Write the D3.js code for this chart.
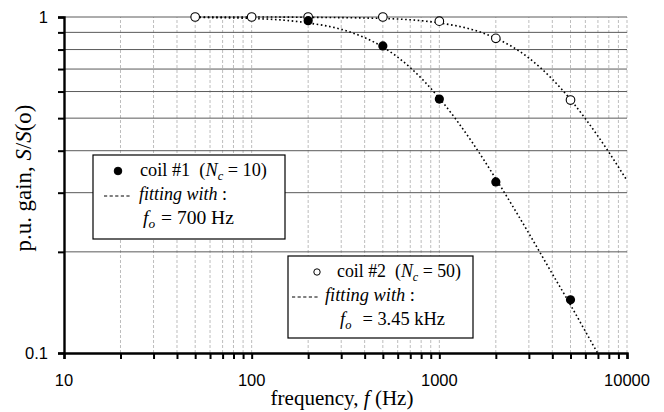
<!DOCTYPE html>
<html>
<head>
<meta charset="utf-8">
<script src="https://cdn.jsdelivr.net/npm/d3@7"></script>
<style>
  body { margin: 0; background: #fff; }
  svg { display: block; }
  .tick-label { font-family: "Liberation Sans", Arial, sans-serif; font-size: 16.5px; fill: #000; }
  .serif { font-family: "Liberation Serif", "Times New Roman", serif; font-size: 18px; fill: #000; }
</style>
</head>
<body>
<svg id="chart" width="664" height="412"></svg>
<script>
const freqs1 = [200, 500, 1000, 2000, 5000]
const gain1 = [0.975, 0.82, 0.57, 0.323, 0.144]
const freqs2 = [50, 100, 200, 500, 1000, 2000, 5000]
const gain2 = [1.0, 1.0, 1.0, 1.0, 0.972, 0.864, 0.566]

// dotted fitting curves
const fitFreqs1 = [50, 100, 150, 200, 300, 400, 500, 700, 1000, 1500, 2000, 3000, 4000, 5000, 6000, 7000]
const fitGain1 = [0.997, 0.99, 0.978, 0.96, 0.919, 0.868, 0.814, 0.707, 0.573, 0.423, 0.33, 0.227, 0.172, 0.139, 0.116, 0.0995]
const fitFreqs2 = [50, 100, 200, 500, 1000, 1500, 2000, 3000, 4000, 5000, 6000, 7000, 8000, 10000]
const fitGain2 = [1.0, 1.0, 0.998, 0.99, 0.96, 0.917, 0.865, 0.755, 0.653, 0.568, 0.498, 0.442, 0.396, 0.326]

const xTickLabels = [10, 100, 1000, 10000]
const yTickLabels = [0.1, 1]

const svg = d3.select("#chart")
const margin = {left: 64, right: 37, top: 17, bottom: 59}
const width = +svg.attr("width"), height = +svg.attr("height")

const x = d3.scaleLog().domain([10, 10000]).range([margin.left, width - margin.right])
const y = d3.scaleLog().domain([0.1, 1]).range([height - margin.bottom, margin.top])

const xMinor = d3.range(1, 4).flatMap(e => d3.range(1, 10).map(m => m * Math.pow(10, e))).concat([10000])
const yMinor = d3.range(1, 11).map(m => m / 10)

// scale a text's font size so that it spans the given width
function fitWidth(text, target) {
  const w = text.node().getBBox().width
  const fs = parseFloat(getComputedStyle(text.node()).fontSize)
  text.style("font-size", (fs * target / w) + "px")
}

// vertical grid
svg.append("g").selectAll("line")
  .data(xMinor.filter(v => v > 10))
  .enter().append("line")
  .attr("x1", d => x(d)).attr("x2", d => x(d))
  .attr("y1", y(0.1)).attr("y2", y(1))
  .attr("stroke", "#bdbdbd")
  .attr("stroke-width", 1)
  .attr("stroke-dasharray", "3,2")

// horizontal grid
svg.append("g").selectAll("line")
  .data(yMinor.filter(v => v > 0.1))
  .enter().append("line")
  .attr("x1", x(10)).attr("x2", x(10000))
  .attr("y1", d => y(d)).attr("y2", d => y(d))
  .attr("stroke", "#5a5a5a")
  .attr("stroke-width", 1)

// axes
const xAxis = svg.append("g")
  .attr("transform", "translate(0," + y(0.1) + ")")
  .call(d3.axisBottom(x).tickValues(xMinor).tickSize(6).tickFormat(""))
xAxis.select(".domain").attr("stroke-width", 2.4)
xAxis.selectAll(".tick line").attr("stroke-width", 2)

const yAxis = svg.append("g")
  .attr("transform", "translate(" + x(10) + ",0)")
  .call(d3.axisLeft(y).tickValues(yMinor).tickSize(6).tickFormat(""))
yAxis.select(".domain").attr("stroke-width", 2.4)
yAxis.selectAll(".tick line").attr("stroke-width", 2)

svg.append("g").selectAll("text")
  .data(xTickLabels)
  .enter().append("text")
  .attr("class", "tick-label")
  .attr("x", d => x(d))
  .attr("y", y(0.1) + 33)
  .attr("text-anchor", "middle")
  .text(d => d)

svg.append("g").selectAll("text")
  .data(yTickLabels)
  .enter().append("text")
  .attr("class", "tick-label")
  .attr("x", x(10) - 16)
  .attr("y", d => y(d) + 6)
  .attr("text-anchor", "end")
  .text(d => d)

// axis titles
const xTitle = svg.append("text")
  .attr("class", "serif")
  .attr("x", 342).attr("y", 405)
  .attr("text-anchor", "middle")
xTitle.append("tspan").text("frequency, ")
xTitle.append("tspan").style("font-style", "italic").text("f")
xTitle.append("tspan").text(" (Hz)")
fitWidth(xTitle, 143)

const yTitle = svg.append("text")
  .attr("class", "serif")
  .attr("transform", "translate(31,178) rotate(-90)")
  .attr("text-anchor", "middle")
yTitle.append("tspan").text("p.u. gain, ")
yTitle.append("tspan").style("font-style", "italic").text("S")
yTitle.append("tspan").text("/")
yTitle.append("tspan").style("font-style", "italic").text("S")
yTitle.append("tspan").text("(o)")
fitWidth(yTitle, 147)

// fitting curves
const line = d3.line()
  .x(d => x(d[0]))
  .y(d => y(d[1]))
  .curve(d3.curveMonotoneX)

svg.append("defs").append("clipPath").attr("id", "plot")
  .append("rect")
  .attr("x", x(10)).attr("y", y(1) - 5)
  .attr("width", x(10000) - x(10)).attr("height", y(0.1) - y(1) + 5)

const plot = svg.append("g").attr("clip-path", "url(#plot)")

plot.append("path")
  .datum(d3.zip(fitFreqs1, fitGain1))
  .attr("d", line)
  .attr("fill", "none")
  .attr("stroke", "#000")
  .attr("stroke-width", 1.6)
  .attr("stroke-dasharray", "1.6,2.6")

plot.append("path")
  .datum(d3.zip(fitFreqs2, fitGain2))
  .attr("d", line)
  .attr("fill", "none")
  .attr("stroke", "#000")
  .attr("stroke-width", 1.6)
  .attr("stroke-dasharray", "1.6,2.6")

// points
svg.append("g").selectAll("circle")
  .data(d3.zip(freqs2, gain2))
  .enter().append("circle")
  .attr("cx", d => x(d[0])).attr("cy", d => y(d[1]))
  .attr("r", 4.3)
  .attr("fill", "#fff")
  .attr("stroke", "#000")
  .attr("stroke-width", 1.1)

svg.append("g").selectAll("circle")
  .data(d3.zip(freqs1, gain1))
  .enter().append("circle")
  .attr("cx", d => x(d[0])).attr("cy", d => y(d[1]))
  .attr("r", 4.6)
  .attr("fill", "#000")

// legends: box [x, y, w, h], offsets of marker, text, dashes and widths of the three rows
function legend(g, o) {
  const bx = o.box[0], by = o.box[1]
  g.append("rect")
    .attr("x", bx).attr("y", by)
    .attr("width", o.box[2]).attr("height", o.box[3])
    .attr("fill", "#fff")
    .attr("stroke", "#000")
    .attr("stroke-width", 1.2)

  g.append("circle")
    .attr("cx", bx + o.marker).attr("cy", by + 16)
    .attr("r", o.filled ? 3.8 : 3.2)
    .attr("fill", o.filled ? "#000" : "#fff")
    .attr("stroke", "#000")
    .attr("stroke-width", 1)

  const t1 = g.append("text").attr("class", "serif")
    .attr("x", bx + o.text1).attr("y", by + 21)
  t1.append("tspan").text(o.label)
  t1.append("tspan").attr("dx", "0.5em").text("(")
  t1.append("tspan").style("font-style", "italic").text("N")
  t1.append("tspan").attr("dy", "0.3em").style("font-size", "0.68em").style("font-style", "italic").text(o.sub)
  t1.append("tspan").attr("dy", "-0.204em").text(" = " + o.num + ")")
  fitWidth(t1, o.w1)

  g.append("line")
    .attr("x1", bx + o.dash[0]).attr("x2", bx + o.dash[1])
    .attr("y1", by + 41).attr("y2", by + 41)
    .attr("stroke", "#000")
    .attr("stroke-width", 1)
    .attr("stroke-dasharray", "3.2,2.4")

  const t2 = g.append("text").attr("class", "serif")
    .attr("x", bx + o.text2).attr("y", by + 45)
    .style("font-style", "italic")
  t2.append("tspan").text("fitting with")
  t2.append("tspan").style("font-style", "normal").text(" :")
  fitWidth(t2, o.w2)

  const t3 = g.append("text").attr("class", "serif")
    .attr("x", bx + o.text3).attr("y", by + 69)
  t3.append("tspan").style("font-style", "italic").text("f")
  t3.append("tspan").attr("dy", "0.3em").style("font-size", "0.68em").style("font-style", "italic").text("o")
  t3.append("tspan").attr("dy", "-0.204em").attr("dx", o.foGap).text("= " + o.fo)
  fitWidth(t3, o.w3)
}

legend(svg.append("g"), {
  box: [93, 155, 192, 84], filled: true, marker: 25, text1: 47, dash: [11, 39], text2: 46, text3: 50,
  label: "coil #1", sub: "c", num: 10, fo: "700 Hz", foGap: "0.3em", w1: 127, w2: 88, w3: 91
})
legend(svg.append("g"), {
  box: [288, 256, 185, 82], filled: false, marker: 29, text1: 49, dash: [4, 32], text2: 37, text3: 52,
  label: "coil #2", sub: "c", num: 50, fo: "3.45 kHz", foGap: "0.6em", w1: 124, w2: 90, w3: 105
})
</script>
</body>
</html>
